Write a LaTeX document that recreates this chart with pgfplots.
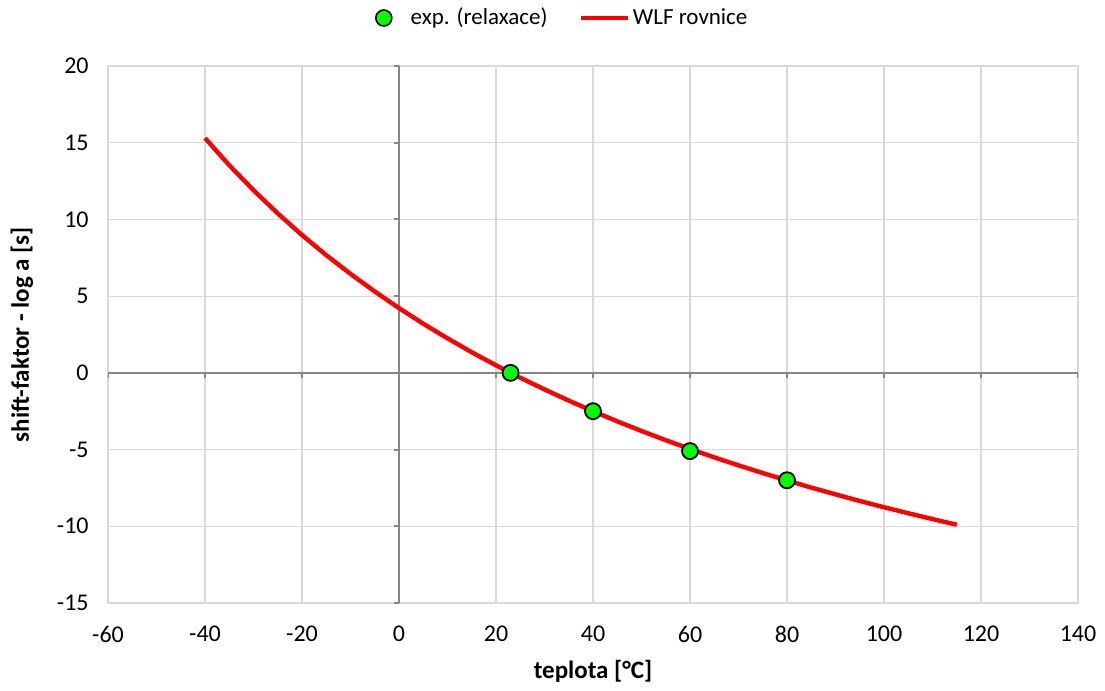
\documentclass[border=0pt]{standalone}
\usepackage{fontspec}
\setmainfont{Carlito}
\usepackage{pgfplots}
\pgfplotsset{compat=1.18}
\definecolor{gridgray}{RGB}{217,217,217}
\definecolor{axgray}{RGB}{134,134,134}
\definecolor{mkgreen}{RGB}{0,255,0}
\begin{document}
\begin{tikzpicture}
\begin{axis}[
  scale only axis, width=485pt, height=268.5pt,
  xmin=-60, xmax=140, ymin=-15, ymax=20,
  xtick={-60,-40,...,140}, ytick={-15,-10,...,20},
  grid=major, major grid style={gridgray, line width=0.6pt},
  axis line style={gridgray, line width=0.8pt},
  major tick length=0pt,
  /pgf/number format/assume math mode=true,
  tick label style={font=\fontsize{12}{14}\selectfont, inner sep=0pt},
  xticklabel style={anchor=center, yshift=-15.5pt},
  yticklabel style={anchor=east, xshift=-9.5pt},
  xlabel={teplota [°C]},
  ylabel={shift-faktor - log a [s]},
  label style={font=\fontsize{12.5}{15}\selectfont\bfseries},
  xlabel style={at={(axis description cs:0.5,-0.128)}, anchor=center},
  ylabel style={at={(axis description cs:-0.0887,0.5)}, anchor=center},
  legend style={at={(axis description cs:0.461,1.0894)}, anchor=center, draw=none, fill=none,
    legend columns=2, font=\fontsize{11.5}{14}\selectfont,
    nodes={inner sep=1.5pt},
    /tikz/every even column/.append style={column sep=14pt}},
]
\draw[axgray, line width=1pt] (axis cs:0,-15) -- (axis cs:0,20);
\draw[axgray, line width=1pt] (axis cs:-60,0) -- (axis cs:140,0);
\pgfplotsinvokeforeach{-60,-40,...,140}{\draw[axgray, line width=1pt] (axis cs:#1,0) -- ++(0pt,-2.5pt);}
\pgfplotsinvokeforeach{-15,-10,...,20}{\draw[axgray, line width=1pt] (axis cs:0,#1) -- ++(-2.5pt,0pt);}
\addlegendimage{legend image code/.code={\path (0pt,0pt) (23.5pt,0pt); \draw[fill=mkgreen, draw=black, line width=0.8pt] (11.75pt,0pt) circle (4pt);}}
\addlegendimage{legend image code/.code={\draw[red, line width=2.2pt] (0pt,0pt) -- (23.5pt,0pt);}}
\addplot[red, line width=2.2pt, forget plot] coordinates {
(-40,15.30) (-35,13.53) (-30,11.90) (-25,10.39) (-20,8.98) (-15,7.67) (-10,6.45) (-5,5.30)
(0,4.22) (5,3.20) (10,2.25) (15,1.34) (20,0.49) (23,0.00) (25,-0.32) (30,-1.08) (35,-1.81)
(40,-2.50) (45,-3.16) (50,-3.79) (55,-4.39) (60,-4.96) (65,-5.51) (70,-6.03) (75,-6.53)
(80,-7.01) (85,-7.48) (90,-7.92) (95,-8.35) (100,-8.76) (105,-9.15) (110,-9.53) (115,-9.90)
};
\addplot[only marks, mark=*, mark size=4pt, mark options={fill=mkgreen, draw=black, line width=0.9pt}, forget plot] coordinates {
(23,0.0) (40,-2.5) (60,-5.1) (80,-7.0)
};
\legend{exp. (relaxace), WLF rovnice}
\end{axis}
\path (current axis.south west) ++(-54pt,-43.5pt) coordinate (bl);
\path (current axis.north east) ++(13.5pt,33pt) coordinate (tr);
\path (bl) rectangle (tr);
\end{tikzpicture}
\end{document}
